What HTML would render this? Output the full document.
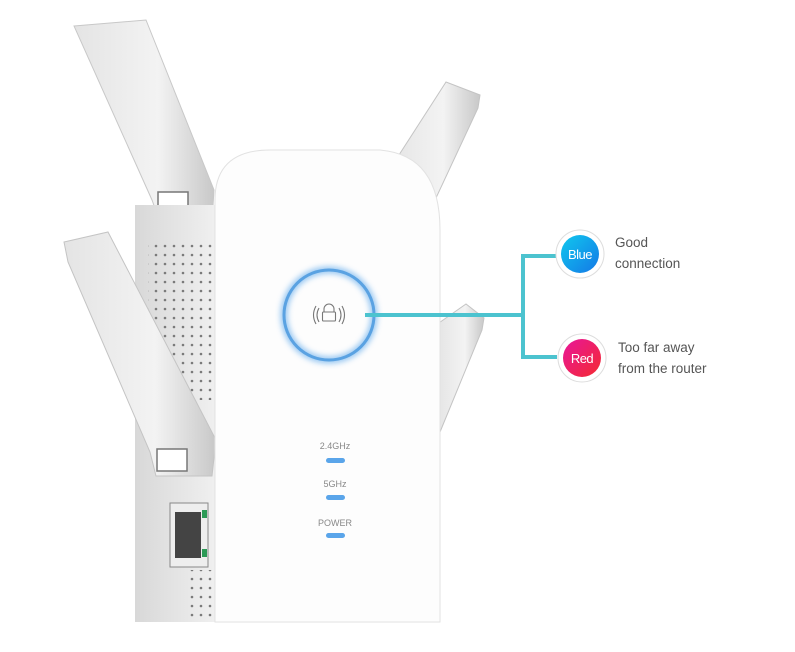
<!DOCTYPE html>
<html><head><meta charset="utf-8"><style>
html,body{margin:0;padding:0;background:#fff;}
svg{display:block;font-family:"Liberation Sans",sans-serif;}
</style></head><body>
<svg width="795" height="652" viewBox="0 0 795 652" xmlns="http://www.w3.org/2000/svg">
<defs>
<linearGradient id="ant" x1="0" y1="0" x2="1" y2="0"><stop offset="0" stop-color="#e4e4e4"/><stop offset="0.6" stop-color="#f3f3f3"/><stop offset="1" stop-color="#c8c8c8"/></linearGradient>
<linearGradient id="side" x1="0" y1="0" x2="1" y2="0"><stop offset="0" stop-color="#d8d8d8"/><stop offset="1" stop-color="#f0f0f0"/></linearGradient>
<linearGradient id="bl" x1="0" y1="0" x2="1" y2="1"><stop offset="0" stop-color="#10c8ee"/><stop offset="1" stop-color="#1478e6"/></linearGradient>
<linearGradient id="rd" x1="0" y1="0" x2="1" y2="1"><stop offset="0" stop-color="#e8169a"/><stop offset="1" stop-color="#f42a30"/></linearGradient>
<pattern id="dots" width="9" height="9" patternUnits="userSpaceOnUse"><circle cx="3" cy="3" r="1.3" fill="#7a7a7a"/></pattern>
<filter id="glow"><feGaussianBlur stdDeviation="3"/></filter>
</defs>
<polygon points="388,172 446,82 480,95 478,108 422,228" fill="url(#ant)" stroke="#c4c4c4"/>
<polygon points="436,325 466,304 484,318 482,330 440,432" fill="url(#ant)" stroke="#c4c4c4"/>
<polygon points="74,26 146,20 214,190 212,222 160,222 152,200" fill="url(#ant)" stroke="#c8c8c8"/>
<rect x="158" y="192" width="30" height="22" fill="#fff" stroke="#777" stroke-width="1.5"/>
<rect x="135" y="205" width="82" height="417" fill="url(#side)"/>
<rect x="148" y="240" width="65" height="160" fill="url(#dots)"/>
<rect x="190" y="570" width="22" height="50" fill="url(#dots)"/>
<polygon points="64,242 108,232 216,440 212,476 156,476 150,452 68,262" fill="url(#ant)" stroke="#c4c4c4"/>
<rect x="157" y="449" width="30" height="22" fill="#fff" stroke="#777" stroke-width="1.5"/>
<rect x="170" y="503" width="38" height="64" fill="#eee" stroke="#888"/>
<rect x="175" y="512" width="26" height="46" fill="#444"/>
<rect x="202" y="510" width="5" height="8" fill="#2c9a56"/><rect x="202" y="549" width="5" height="8" fill="#2c9a56"/>
<path d="M215,622 L215,200 Q215,150 270,150 L380,150 Q440,155 440,230 L440,622 Z" fill="#fdfdfd" stroke="#e2e2e2"/>
<circle cx="329" cy="315" r="45" fill="none" stroke="#7ab8ef" stroke-width="7" filter="url(#glow)" opacity="0.8"/>
<circle cx="329" cy="315" r="45" fill="none" stroke="#5aa2e2" stroke-width="3"/>
<g stroke="#777" stroke-width="1.1" fill="none">
<path d="M324,309 A4,4 0 0 1 334,309 L334,312"/><path d="M324,312 L324,309"/>
<rect x="322.5" y="312" width="13" height="9" rx="1"/>
<path d="M319,308 Q315,315 319,322"/><path d="M316,306 Q311,315 316,324"/>
<path d="M339,308 Q343,315 339,322"/><path d="M342,306 Q347,315 342,324"/>
</g>
<g font-size="9" fill="#888" text-anchor="middle">
<text x="335" y="449">2.4GHz</text><text x="335" y="487">5GHz</text><text x="335" y="526">POWER</text>
</g>
<g fill="#5aa5ea"><rect x="326" y="458" width="19" height="5" rx="2.5"/><rect x="326" y="495" width="19" height="5" rx="2.5"/><rect x="326" y="533" width="19" height="5" rx="2.5"/></g>
<g stroke="#4cc3cf" stroke-width="4" fill="none">
<line x1="365" y1="315" x2="523" y2="315"/>
<line x1="523" y1="254" x2="523" y2="359"/>
<line x1="521" y1="256" x2="556" y2="256"/>
<line x1="521" y1="357" x2="557" y2="357"/>
</g>
<circle cx="580" cy="254" r="24" fill="#fff" stroke="#ddd"/>
<circle cx="580" cy="254" r="19" fill="url(#bl)"/>
<text x="580" y="259" font-size="13" fill="#fff" text-anchor="middle" letter-spacing="-0.5">Blue</text>
<circle cx="582" cy="358" r="24" fill="#fff" stroke="#ddd"/>
<circle cx="582" cy="358" r="19" fill="url(#rd)"/>
<text x="582" y="363" font-size="13" fill="#fff" text-anchor="middle" letter-spacing="-0.5">Red</text>
<g font-size="13.5" fill="#555">
<text x="615" y="247">Good</text><text x="615" y="268">connection</text>
<text x="618" y="352">Too far away</text><text x="618" y="373">from the router</text>
</g>
</svg>
</body></html>
